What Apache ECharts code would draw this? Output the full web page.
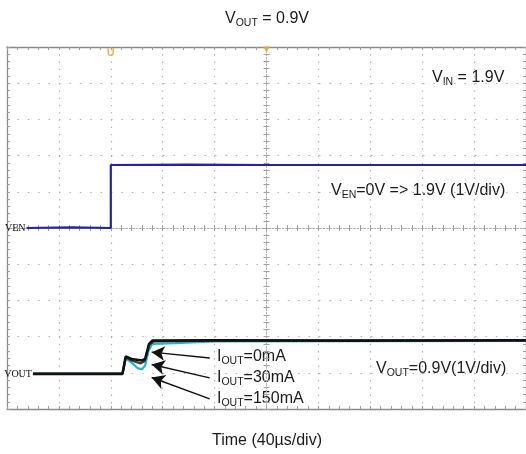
<!DOCTYPE html>
<html>
<head>
<meta charset="utf-8">
<script src="https://cdn.jsdelivr.net/npm/echarts@6/dist/echarts.min.js"></script>
<style>
html,body{margin:0;padding:0;background:#fff;}
#main{width:526px;height:454px;}
</style>
</head>
<body>
<div id="main"></div>
<script>
// time in µs relative to screen centre (40 µs/div), amplitude in divisions relative to centre line
const venTrace   = [[-185, 0], [-150, 0.02], [-120, 0], [-120, 1.74], [-60, 1.75], [0, 1.74], [100, 1.74], [200, 1.74]];
const vout0mA    = [[-180, -4.03], [-111, -4.03], [-108.5, -3.55], [-104, -3.62], [-96, -3.66], [-93.5, -3.62], [-90.5, -3.2], [-88, -3.11], [-40, -3.10], [60, -3.11], [200, -3.10]];
const vout30mA   = [[-180, -4.03], [-111, -4.03], [-108.5, -3.57], [-104, -3.66], [-97, -3.74], [-94, -3.68], [-90.5, -3.24], [-87, -3.13], [-40, -3.11], [200, -3.11]];
const vout150mA  = [[-180, -4.02], [-111, -4.02], [-108.5, -3.60], [-104, -3.72], [-99, -3.88], [-96, -3.90], [-93.5, -3.80], [-91, -3.40], [-88, -3.20], [-70, -3.18], [-40, -3.13], [200, -3.12]];
const triggerMark = [[-120, 4.83]];
const centreMark  = [[0, 4.93]];
const arrowTails = [[-43.8, -3.59], [-43.8, -4.14], [-43.8, -4.72]];
const arrowHeads = [[-88.5, -3.43], [-88.5, -3.77], [-88.5, -4.13]];
const xTicks = { min: -200, max: 200, interval: 40 };
const yTicks = { min: -5, max: 5, interval: 1 };

const chart = echarts.init(document.getElementById('main'), null, {renderer: 'canvas'});
const gridRect = {left: 7, top: 47, width: 520, height: 362};
const dotV = {color: '#b0b0b0', width: 1.2, type: [1.4, 5.84], dashOffset: 0};
const dotH = {color: '#b0b0b0', width: 1.2, type: [1.4, 9.0], dashOffset: 0};
const border = {color: '#8a8a8a', width: 1.3};
const noLabel = {show: false};

function xAx(grid, pos, onZero, inside, extra) {
  return Object.assign({
    type: 'value', gridIndex: grid, position: pos, min: xTicks.min, max: xTicks.max, interval: xTicks.interval,
    axisLine: {show: true, onZero: onZero, lineStyle: onZero ? {color: '#b0b0b0', width: 1, type: [1.4, 2]} : border},
    axisTick: {show: true, inside: inside, length: 3, lineStyle: {color: '#a0a0a0'}},
    minorTick: {show: true, splitNumber: 5, length: 3, lineStyle: {color: '#a0a0a0'}},
    axisLabel: noLabel, splitLine: {show: false}
  }, extra || {});
}
function yAx(grid, pos, onZero, inside, extra) {
  return Object.assign({
    type: 'value', gridIndex: grid, position: pos, min: yTicks.min, max: yTicks.max, interval: yTicks.interval,
    axisLine: {show: true, onZero: onZero, lineStyle: onZero ? {color: '#b0b0b0', width: 1, type: [1.4, 2]} : border},
    axisTick: {show: true, inside: inside, length: 3, lineStyle: {color: '#a0a0a0'}},
    minorTick: {show: true, splitNumber: 5, length: 3, lineStyle: {color: '#a0a0a0'}},
    axisLabel: noLabel, splitLine: {show: false}
  }, extra || {});
}

const txt = '#1a1a1a';
const font = 'Liberation Sans, Arial, sans-serif';
const rich = {
  m: {fontSize: 16, fontFamily: font, color: txt, lineHeight: 20},
  s: {fontSize: 10.5, fontFamily: font, color: txt, lineHeight: 12, verticalAlign: 'bottom'}
};
function label(x, y, text, align) {
  return {type: 'text', x: x, y: y, silent: true,
    style: {text: text, rich: rich, align: align || 'left', verticalAlign: 'middle', font: '16px ' + font, fill: txt}};
}

const markLines = arrowTails.map((t, i) => [
  {coord: t, symbol: 'none'},
  {coord: arrowHeads[i], symbol: 'arrow'}
]);

const startLabelStyle = {show: true, position: 'left', distance: 1,
  fontFamily: 'Liberation Serif, Times New Roman, serif', fontSize: 10, color: '#111'};
function startLabel(series, text) {
  return series.map((p, i) => i === 0
    ? {value: p, label: Object.assign({formatter: text}, startLabelStyle)}
    : {value: p, label: {show: false}});
}

chart.setOption({
  animation: false,
  backgroundColor: '#fff',
  grid: [Object.assign({}, gridRect), Object.assign({}, gridRect)],
  xAxis: [
    xAx(0, 'bottom', true, false, {splitLine: {show: true, lineStyle: dotV}}),
    xAx(0, 'top', true, false),
    xAx(1, 'top', false, true),
    xAx(1, 'bottom', false, true)
  ],
  yAxis: [
    yAx(0, 'left', true, false, {splitLine: {show: true, lineStyle: dotH}}),
    yAx(0, 'right', true, false),
    yAx(1, 'left', false, true),
    yAx(1, 'right', false, true)
  ],
  graphic: [
    label(267, 19, '{m|V}{s|OUT}{m| = 0.9V}', 'center'),
    label(432, 78, '{m|V}{s|IN}{m| = 1.9V}'),
    label(331, 191, '{m|V}{s|EN}{m|=0V => 1.9V (1V/div)}'),
    label(376, 369, '{m|V}{s|OUT}{m|=0.9V(1V/div)}'),
    label(217, 357, '{m|I}{s|OUT}{m|=0mA}'),
    label(217, 378, '{m|I}{s|OUT}{m|=30mA}'),
    label(217, 399, '{m|I}{s|OUT}{m|=150mA}'),
    label(267, 441, '{m|Time (40µs/div)}', 'center')
  ],
  series: [
    {type: 'line', name: 'VEN', xAxisIndex: 0, yAxisIndex: 0, data: startLabel(venTrace, 'VEN'),
      symbol: 'circle', symbolSize: 0, showSymbol: true, showAllSymbol: true,
      lineStyle: {color: '#2323a8', width: 2.2}, itemStyle: {color: '#2323a8'}, z: 5},
    {type: 'line', name: 'IOUT=150mA', xAxisIndex: 0, yAxisIndex: 0, data: vout150mA, symbol: 'none',
      lineStyle: {color: '#1fb8c4', width: 2.2}, z: 4},
    {type: 'line', name: 'IOUT=30mA', xAxisIndex: 0, yAxisIndex: 0, data: vout30mA, symbol: 'none',
      lineStyle: {color: '#3a3a3a', width: 2.2}, z: 5},
    {type: 'line', name: 'IOUT=0mA', xAxisIndex: 0, yAxisIndex: 0, data: startLabel(vout0mA, 'VOUT'),
      symbol: 'circle', symbolSize: 0, showSymbol: true, showAllSymbol: true,
      lineStyle: {color: '#111', width: 2.6}, itemStyle: {color: '#111'}, z: 6,
      markLine: {silent: true, symbol: ['none', 'arrow'], symbolSize: [11, 13], label: {show: false},
        lineStyle: {color: '#111', width: 1.4, type: 'solid'}, data: markLines}},
    {type: 'scatter', xAxisIndex: 0, yAxisIndex: 0, data: triggerMark, symbol: 'circle', symbolSize: 0,
      silent: true, z: 7,
      label: {show: true, position: 'inside', formatter: 'U', fontSize: 11, fontWeight: 'bold', color: '#f0a030',
        fontFamily: font}},
    {type: 'scatter', xAxisIndex: 0, yAxisIndex: 0, data: centreMark, symbol: 'triangle', symbolRotate: 180,
      symbolSize: [7, 6], itemStyle: {color: '#f0a030'}, silent: true, z: 7}
  ]
});
</script>
</body>
</html>
